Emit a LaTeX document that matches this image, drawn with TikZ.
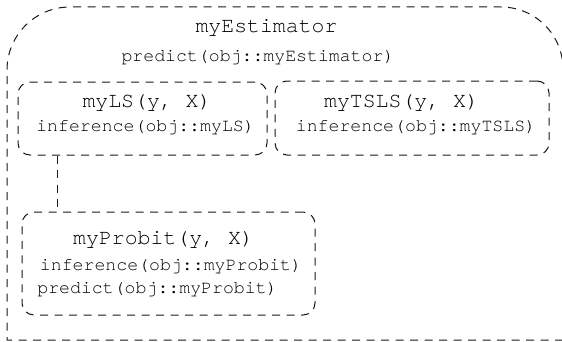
\documentclass[tikz,border=0pt]{standalone}
\usepackage{fontspec}
\setmonofont{TeX Gyre Cursor}
\begin{document}
\begin{tikzpicture}[x=1pt,y=1pt,
  dline/.style={line width=1pt, black!90, dash pattern=on 8pt off 6.5pt},
  boxnode/.style={dline, draw, rounded corners=12pt, inner sep=0pt},
  bigtxt/.style={inner sep=0pt, font=\ttfamily\fontsize{21.5}{24}\selectfont},
  smalltxt/.style={inner sep=0pt, font=\ttfamily\fontsize{18.2}{21}\selectfont}]
\useasboundingbox (0,0) rectangle (562,341);
% outer container
\begin{scope}
\clip (0,0) rectangle (562,341);
\draw[dline] (563,1) -- (7,1) -- (7,271) arc[start angle=180, end angle=90, radius=63]
  -- (501,334) arc[start angle=90, end angle=0, radius=62] -- (563,1);
\end{scope}
\node[bigtxt] (est) at (266.5,313) {myEstimator};
\node[smalltxt] (estp) at (258,283) {predict(obj::myEstimator)};
% inner boxes
\node[boxnode, minimum width=249pt, minimum height=73pt] (ls) at (142.5,222.5) {};
\node[boxnode, minimum width=274pt, minimum height=74pt] (tsls) at (412,223) {};
\node[boxnode, minimum width=293pt, minimum height=103pt] (probit) at (168.5,77.5) {};
% texts
\node[bigtxt] (lst) at (147,238) {myLS(y, X)};
\node[smalltxt] (lsi) at (145.5,213) {inference(obj::myLS)};
\node[bigtxt] (tslst) at (401.5,238) {myTSLS(y, X)};
\node[smalltxt] (tslsi) at (416,213) {inference(obj::myTSLS)};
\node[bigtxt] (prt) at (163.5,101) {myProbit(y, X)};
\node[smalltxt] (pri) at (171,74) {inference(obj::myProbit)};
\node[smalltxt] (prp) at (157.5,51) {predict(obj::myProbit)};
% connector
\draw[dline] (ls.south west) ++(40pt,0) coordinate (c1) -- (c1 |- probit.north);
\end{tikzpicture}
\end{document}
